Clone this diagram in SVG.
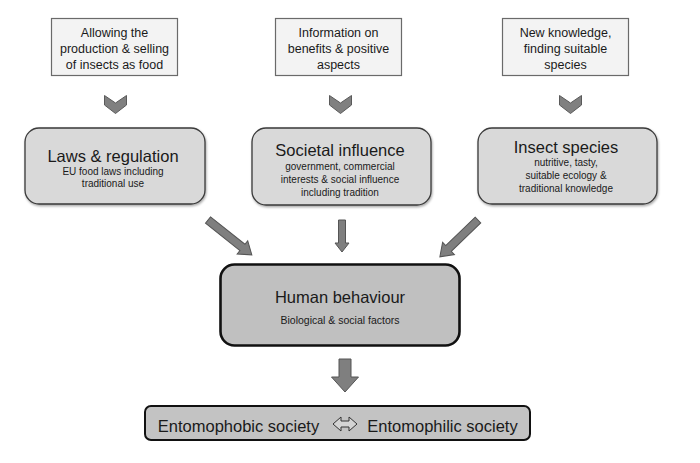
<svg xmlns="http://www.w3.org/2000/svg" width="700" height="463" viewBox="0 0 700 463">
<style>
text{font-family:"Liberation Sans",Arial,sans-serif;fill:#1a1a1a;text-anchor:middle}
.top{fill:#f3f3f3;stroke:#6a6a6a;stroke-width:1.2}
.mid{fill:#d9d9d9;stroke:#3a3a3a;stroke-width:1.3}
.hum{fill:#c0c0c0;stroke:#111;stroke-width:2.6}
.bot{fill:#c3c3c3;stroke:#111;stroke-width:2}
.t1{font-size:12.5px}
.t2{font-size:16.5px}
.t3{font-size:10px}
.t4{font-size:10.5px}
.arr{fill:#7f7f7f;stroke:#555;stroke-width:1}
.chev{fill:#808080;stroke:#5a5a5a;stroke-width:1}
</style>
<defs>
<filter id="sh" x="-10%" y="-10%" width="130%" height="130%">
<feDropShadow dx="0.8" dy="1.5" stdDeviation="1.2" flood-color="#000" flood-opacity="0.35"/>
</filter>
</defs>
<rect width="700" height="463" fill="#fff"/>

<g id="top1">
<rect class="top" x="51.5" y="18.5" width="126" height="57"/>
<text class="t1" x="114.5" y="37">Allowing the</text>
<text class="t1" x="114.5" y="53">production &amp; selling</text>
<text class="t1" x="114.5" y="69">of insects as food</text>
</g>
<g id="top2">
<rect class="top" x="275.5" y="18.5" width="126" height="57"/>
<text class="t1" x="338.5" y="37">Information on</text>
<text class="t1" x="338.5" y="53">benefits &amp; positive</text>
<text class="t1" x="338.5" y="69">aspects</text>
</g>
<g id="top3">
<rect class="top" x="502.5" y="18.5" width="126" height="57"/>
<text class="t1" x="565.5" y="37">New knowledge,</text>
<text class="t1" x="565.5" y="53">finding suitable</text>
<text class="t1" x="565.5" y="69">species</text>
</g>

<g id="laws">
<rect class="mid" x="25" y="128" width="180" height="76" rx="14" filter="url(#sh)"/>
<text class="t2" x="113" y="162">Laws &amp; regulation</text>
<text class="t3" x="113" y="175">EU food laws including</text>
<text class="t3" x="113" y="187">traditional use</text>
</g>
<g id="societal">
<rect class="mid" x="252" y="128" width="179" height="77" rx="14" filter="url(#sh)"/>
<text class="t2" x="340" y="156">Societal influence</text>
<text class="t3" x="340" y="170">government, commercial</text>
<text class="t3" x="340" y="183">interests &amp; social influence</text>
<text class="t3" x="340" y="196">including tradition</text>
</g>
<g id="insect">
<rect class="mid" x="478" y="128" width="179" height="76" rx="14" filter="url(#sh)"/>
<text class="t2" x="566" y="153">Insect species</text>
<text class="t3" x="566" y="166">nutritive, tasty,</text>
<text class="t3" x="566" y="179">suitable ecology &amp;</text>
<text class="t3" x="566" y="192">traditional knowledge</text>
</g>

<g id="human">
<rect class="hum" x="220.5" y="264.5" width="239" height="81" rx="14"/>
<text class="t2" x="340" y="303">Human behaviour</text>
<text class="t4" x="340" y="324">Biological &amp; social factors</text>
</g>

<g id="society">
<rect class="bot" x="145" y="406" width="385" height="34" rx="6"/>
<text class="t2" x="238.5" y="432">Entomophobic society</text>
<text class="t2" x="442.5" y="432">Entomophilic society</text>
<path d="M333,424 L341,417 L341,421 L349,421 L349,417 L357,424 L349,431 L349,427 L341,427 L341,431 Z" fill="#d4d4d4" stroke="#333" stroke-width="1"/>
</g>

<g id="connectors">
<polygon class="chev" points="104.5,95.5 115.5,103 126.5,95.5 126.5,105 115.5,113.5 104.5,105"/>
<polygon class="chev" points="329.5,95.5 340.5,103 351.5,95.5 351.5,105 340.5,113.5 329.5,105"/>
<polygon class="chev" points="559.5,95.5 570.5,103 581.5,95.5 581.5,105 570.5,113.5 559.5,105"/>
<path class="arr" transform="translate(208,220) rotate(38.5)" d="M0,-4 L44,-4 L44,-8.5 L56,0 L44,8.5 L44,4 L0,4 Z"/>
<path class="arr" transform="translate(478,220) rotate(136)" d="M0,-4 L41,-4 L41,-8.5 L53,0 L41,8.5 L41,4 L0,4 Z"/>
<path class="arr" d="M338.5,220 L345.5,220 L345.5,243 L349,243 L342,252 L335,243 L338.5,243 Z"/>
<path class="arr" d="M339,359 L351,359 L351,377 L358.5,377 L345,392 L331.5,377 L339,377 Z"/>
</g>
</svg>
